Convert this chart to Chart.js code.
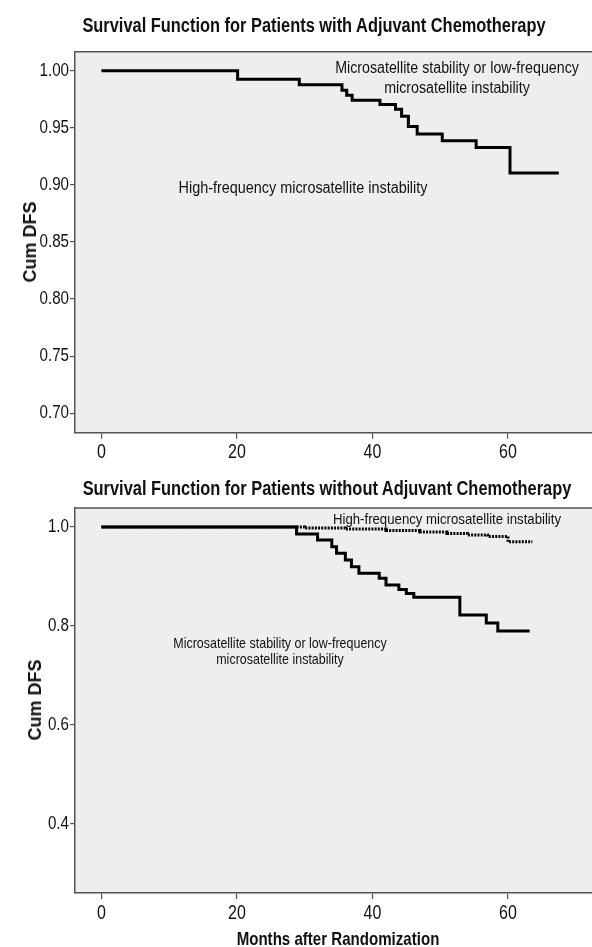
<!DOCTYPE html>
<html>
<head>
<meta charset="utf-8">
<script src="https://cdn.jsdelivr.net/npm/chart.js@4.4.1/dist/chart.umd.min.js"></script>
<style>
  html, body { margin:0; padding:0; background:#ffffff; width:592px; height:947px; overflow:hidden; }
  body { position:relative; font-family:"Liberation Sans",Arial,sans-serif; color:#111; }
  canvas { position:absolute; left:0; }
  .t { position:absolute; white-space:nowrap; line-height:1; }
  .title { font-weight:bold; font-size:20px; transform:translate(-50%,-50%) scaleX(0.82); }
  .ylab { font-weight:bold; font-size:18px; transform:translate(-50%,-50%) rotate(-90deg); }
  .ann { text-align:center; }
</style>
</head>
<body>
<canvas id="c1" width="592" height="470" style="top:0px"></canvas>
<canvas id="c2" width="592" height="477" style="top:470px"></canvas>

<div class="t title" style="left:314px; top:25px;">Survival Function for Patients with Adjuvant Chemotherapy</div>
<div class="t title" style="left:327px; top:488px;">Survival Function for Patients without Adjuvant Chemotherapy</div>
<div class="t title" style="left:338px; top:939px; font-size:18.4px;">Months after Randomization</div>
<div class="t ylab" style="left:30px; top:242px;">Cum DFS</div>
<div class="t ylab" style="left:35px; top:700px;">Cum DFS</div>

<div class="t ann" style="left:457px; top:58px; font-size:16px; line-height:20px; transform:translate(-50%,0) scaleX(0.89);">Microsatellite stability or low-frequency<br>microsatellite instability</div>
<div class="t ann" style="left:303px; top:178px; font-size:16px; line-height:20px; transform:translate(-50%,0) scaleX(0.9);">High-frequency microsatellite instability</div>
<div class="t ann" style="left:447px; top:510px; font-size:15px; line-height:18px; transform:translate(-50%,0) scaleX(0.88);">High-frequency microsatellite instability</div>
<div class="t ann" style="left:280px; top:635px; font-size:14.5px; line-height:16px; transform:translate(-50%,0) scaleX(0.86);">Microsatellite stability or low-frequency<br>microsatellite instability</div>

<script>
// ---------- data ----------
const xTicks = [0, 20, 40, 60];
const xTickLabels = ['0', '20', '40', '60'];

// Top panel: with adjuvant chemotherapy
const topYTicks = [0.70, 0.75, 0.80, 0.85, 0.90, 0.95, 1.00];
const topYTickLabels = ['0.70', '0.75', '0.80', '0.85', '0.90', '0.95', '1.00'];
const topMonths = [0, 20.1, 29.2, 35.5, 36.2, 37.0, 41.1, 43.4, 44.3, 45.3, 46.6, 50.3, 55.3, 60.3, 67.5];
const topMss    = [1.0, 0.9925, 0.9877, 0.9828, 0.9784, 0.9740, 0.9703, 0.9662, 0.9600, 0.9510, 0.9446, 0.9387, 0.9327, 0.9104, 0.9104];

// Bottom panel: without adjuvant chemotherapy
const botYTicks = [0.4, 0.6, 0.8, 1.0];
const botYTickLabels = ['0.4', '0.6', '0.8', '1.0'];
const botMonthsMss = [0, 28.8, 31.9, 34.0, 34.7, 36.0, 36.9, 38.0, 41.0, 42.0, 43.9, 45.0, 46.1, 52.9, 56.8, 58.5, 63.2];
const botMss       = [1.0, 0.986, 0.9737, 0.9602, 0.9469, 0.9333, 0.9198, 0.9065, 0.8964, 0.8828, 0.8737, 0.8657, 0.858, 0.8222, 0.8061, 0.7899, 0.7899];
const botMonthsMsi = [0, 30, 36, 42, 47, 51, 54, 57, 60, 63.6];
const botMsi       = [1.0, 0.998, 0.996, 0.993, 0.990, 0.987, 0.984, 0.981, 0.970, 0.970];

// ---------- chart setup ----------
Chart.defaults.font.family = '"Liberation Sans", Arial, sans-serif';
Chart.defaults.color = '#111';

const AXIS = '#555555';
const NARROW = 0.82;
const pts = (xs, ys) => xs.map((x, i) => ({ x: x, y: ys[i] }));

// draw the canvas text (tick labels) horizontally condensed, like the narrow face of the original
const narrowTextPlugin = {
  id: 'narrowText',
  beforeDraw(chart) {
    const ctx = chart.ctx;
    if (ctx.__narrowed) return;
    const orig = ctx.fillText;
    ctx.fillText = function (text, x, y, maxWidth) {
      this.save();
      this.translate(x, y);
      this.scale(NARROW, 1);
      if (maxWidth !== undefined) orig.call(this, text, 0, 0, maxWidth / NARROW);
      else orig.call(this, text, 0, 0);
      this.restore();
    };
    ctx.__narrowed = true;
  }
};

const bgPlugin = {
  id: 'plotBg',
  beforeDraw(chart) {
    const { ctx, chartArea: { left, top, right, bottom } } = chart;
    ctx.save();
    ctx.fillStyle = '#eeeeee';
    ctx.fillRect(left, top, right - left, bottom - top);
    ctx.strokeStyle = AXIS;
    ctx.lineWidth = 1.5;
    ctx.beginPath();
    ctx.moveTo(left, top);
    ctx.lineTo(right, top);
    ctx.stroke();
    ctx.restore();
  }
};

function makeChart(id, datasets, yMin, yMax, yTicks, yLabels, padTop, xAxisHeight) {
  return new Chart(document.getElementById(id), {
    type: 'line',
    data: { datasets: datasets },
    options: {
      responsive: false,
      animation: false,
      devicePixelRatio: 1,
      layout: { padding: { top: padTop, left: 0, right: 0, bottom: 0 } },
      plugins: { legend: { display: false }, tooltip: { enabled: false }, title: { display: false } },
      elements: { point: { radius: 0 }, line: { tension: 0 } },
      scales: {
        x: {
          type: 'linear',
          min: -3.9, max: 72.4,
          afterBuildTicks: (s) => { s.ticks = xTicks.map(v => ({ value: v })); },
          afterFit: (s) => { s.height = xAxisHeight; },
          ticks: {
            autoSkip: false, maxRotation: 0, padding: 2.5,
            font: { size: 19.5 }, color: '#111',
            callback: (v, i) => xTickLabels[i]
          },
          grid: { drawOnChartArea: false, drawTicks: true, tickLength: 6, color: AXIS, lineWidth: 1.2 },
          border: { display: true, color: AXIS, width: 1.5 }
        },
        y: {
          type: 'linear',
          min: yMin, max: yMax,
          afterBuildTicks: (s) => { s.ticks = yTicks.map(v => ({ value: v })); },
          afterFit: (s) => { s.width = 75; },
          ticks: {
            autoSkip: false, padding: 1,
            font: { size: 18.5 }, color: '#111',
            callback: (v, i) => yLabels[i]
          },
          grid: { drawOnChartArea: false, drawTicks: true, tickLength: 5, color: AXIS, lineWidth: 1.2 },
          border: { display: true, color: AXIS, width: 1.5 }
        }
      }
    },
    plugins: [narrowTextPlugin, bgPlugin]
  });
}

makeChart('c1', [
  {
    label: 'Microsatellite stability or low-frequency microsatellite instability',
    data: pts(topMonths, topMss),
    stepped: true, borderColor: '#000', borderWidth: 3, fill: false
  }
], 0.683, 1.0166, topYTicks, topYTickLabels, 51.7, 470 - 432.7);

makeChart('c2', [
  {
    label: 'Microsatellite stability or low-frequency microsatellite instability',
    data: pts(botMonthsMss, botMss),
    stepped: true, borderColor: '#000', borderWidth: 3, fill: false, order: 0
  },
  {
    label: 'High-frequency microsatellite instability',
    data: pts(botMonthsMsi, botMsi),
    stepped: true, borderColor: '#000', borderWidth: 3, borderDash: [2, 1.2], borderCapStyle: 'butt', fill: false, order: 1
  }
], 0.2606, 1.0384, botYTicks, botYTickLabels, 38, 477 - 423);
</script>
</body>
</html>
